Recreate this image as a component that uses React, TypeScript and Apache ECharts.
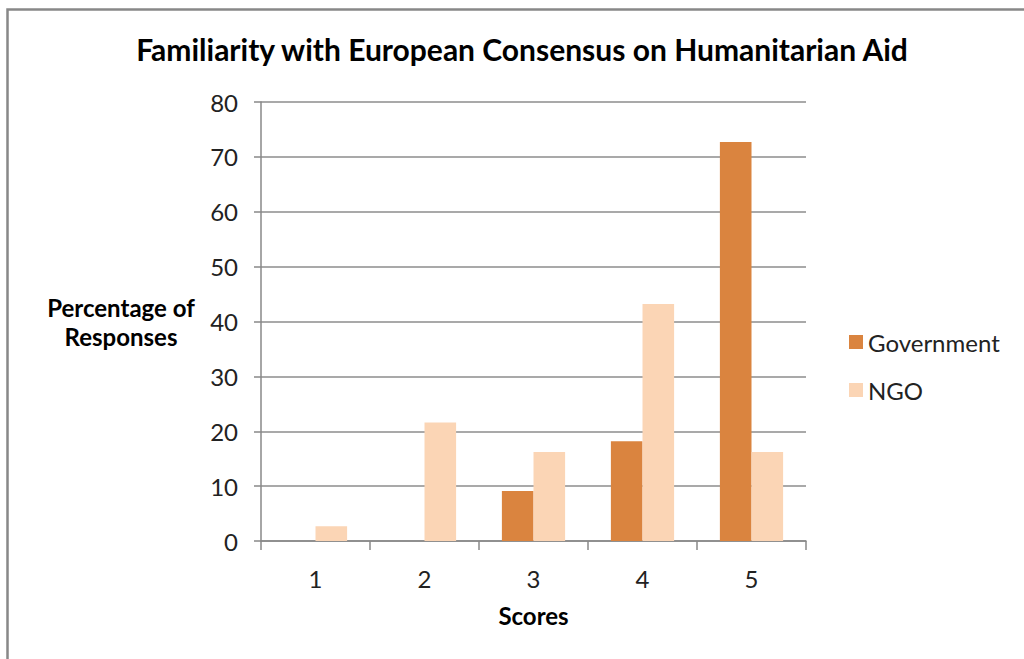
import React, { useEffect, useRef } from "react";
import * as echarts from "echarts";

const categories = ["1", "2", "3", "4", "5"];
const governmentValues = [0, 0, 9.1, 18.2, 72.7];
const ngoValues = [2.7, 21.6, 16.2, 43.2, 16.2];
const seriesNames = ["Government", "NGO"];
const titleText = "Familiarity with European Consensus on Humanitarian Aid";
const yAxisTitle = "Percentage of\nResponses";
const xAxisTitle = "Scores";

export default function App() {
  const ref = useRef<HTMLDivElement>(null);
  useEffect(() => {
    if (!ref.current) return;
    const chart = echarts.init(ref.current, undefined, { renderer: "svg" });
    const font = "Lato, Carlito, 'Open Sans', sans-serif";
    chart.setOption({
      animation: false,
      backgroundColor: "#ffffff",
      textStyle: { fontFamily: font },
      title: {
        text: titleText,
        left: 517,
        top: 29,
        textAlign: "center",
        textStyle: { fontFamily: font, fontSize: 30, fontWeight: "bold", color: "#000" },
      },
      legend: {
        orient: "vertical",
        left: 844,
        top: 325,
        itemWidth: 14,
        itemHeight: 14,
        itemGap: 24,
        icon: "rect",
        textStyle: { fontFamily: font, fontSize: 24, color: "#222" },
        data: seriesNames,
      },
      graphic: [
        {
          type: "rect",
          shape: { x: 7.5, y: 9.5, width: 1100, height: 800 },
          style: { fill: "none", stroke: "#888", lineWidth: 2.5 },
          silent: true,
        },
        {
          type: "text",
          x: 121,
          y: 322,
          style: {
            text: yAxisTitle,
            fontFamily: font,
            fontSize: 24,
            fontWeight: "bold",
            fill: "#000",
            align: "center",
            verticalAlign: "middle",
            lineHeight: 29,
          },
        },
      ],
      grid: { left: 261, top: 102, right: 218, bottom: 118, containLabel: false },
      xAxis: {
        type: "category",
        data: categories,
        name: xAxisTitle,
        nameLocation: "middle",
        nameGap: 62,
        nameTextStyle: { fontFamily: font, fontSize: 24, fontWeight: "bold", color: "#000" },
        axisLine: { lineStyle: { color: "#888", width: 1.5 } },
        axisTick: { show: true, length: 9, lineStyle: { color: "#888", width: 1.5 } },
        axisLabel: { fontFamily: font, fontSize: 24, color: "#222", margin: 25 },
      },
      yAxis: {
        type: "value",
        min: 0,
        max: 80,
        interval: 10,
        axisLine: { show: true, lineStyle: { color: "#888", width: 1.5 } },
        axisTick: { show: true, length: 7, lineStyle: { color: "#888", width: 1.5 } },
        axisLabel: { fontFamily: font, fontSize: 24, color: "#222", margin: 23 },
        splitLine: { lineStyle: { color: "#8c8c8c", width: 1.5 } },
      },
      series: [
        {
          name: seriesNames[0],
          type: "bar",
          data: governmentValues,
          barGap: "0%",
          barCategoryGap: "42%",
          itemStyle: { color: "#DA843F" },
        },
        {
          name: seriesNames[1],
          type: "bar",
          data: ngoValues,
          barGap: "0%",
          barCategoryGap: "42%",
          itemStyle: { color: "#FBD5B5" },
        },
      ],
    });
    return () => chart.dispose();
  }, []);
  return (
    <div
      ref={ref}
      style={{ position: "fixed", left: 0, top: 0, width: 1024, height: 659 }}
    />
  );
}
